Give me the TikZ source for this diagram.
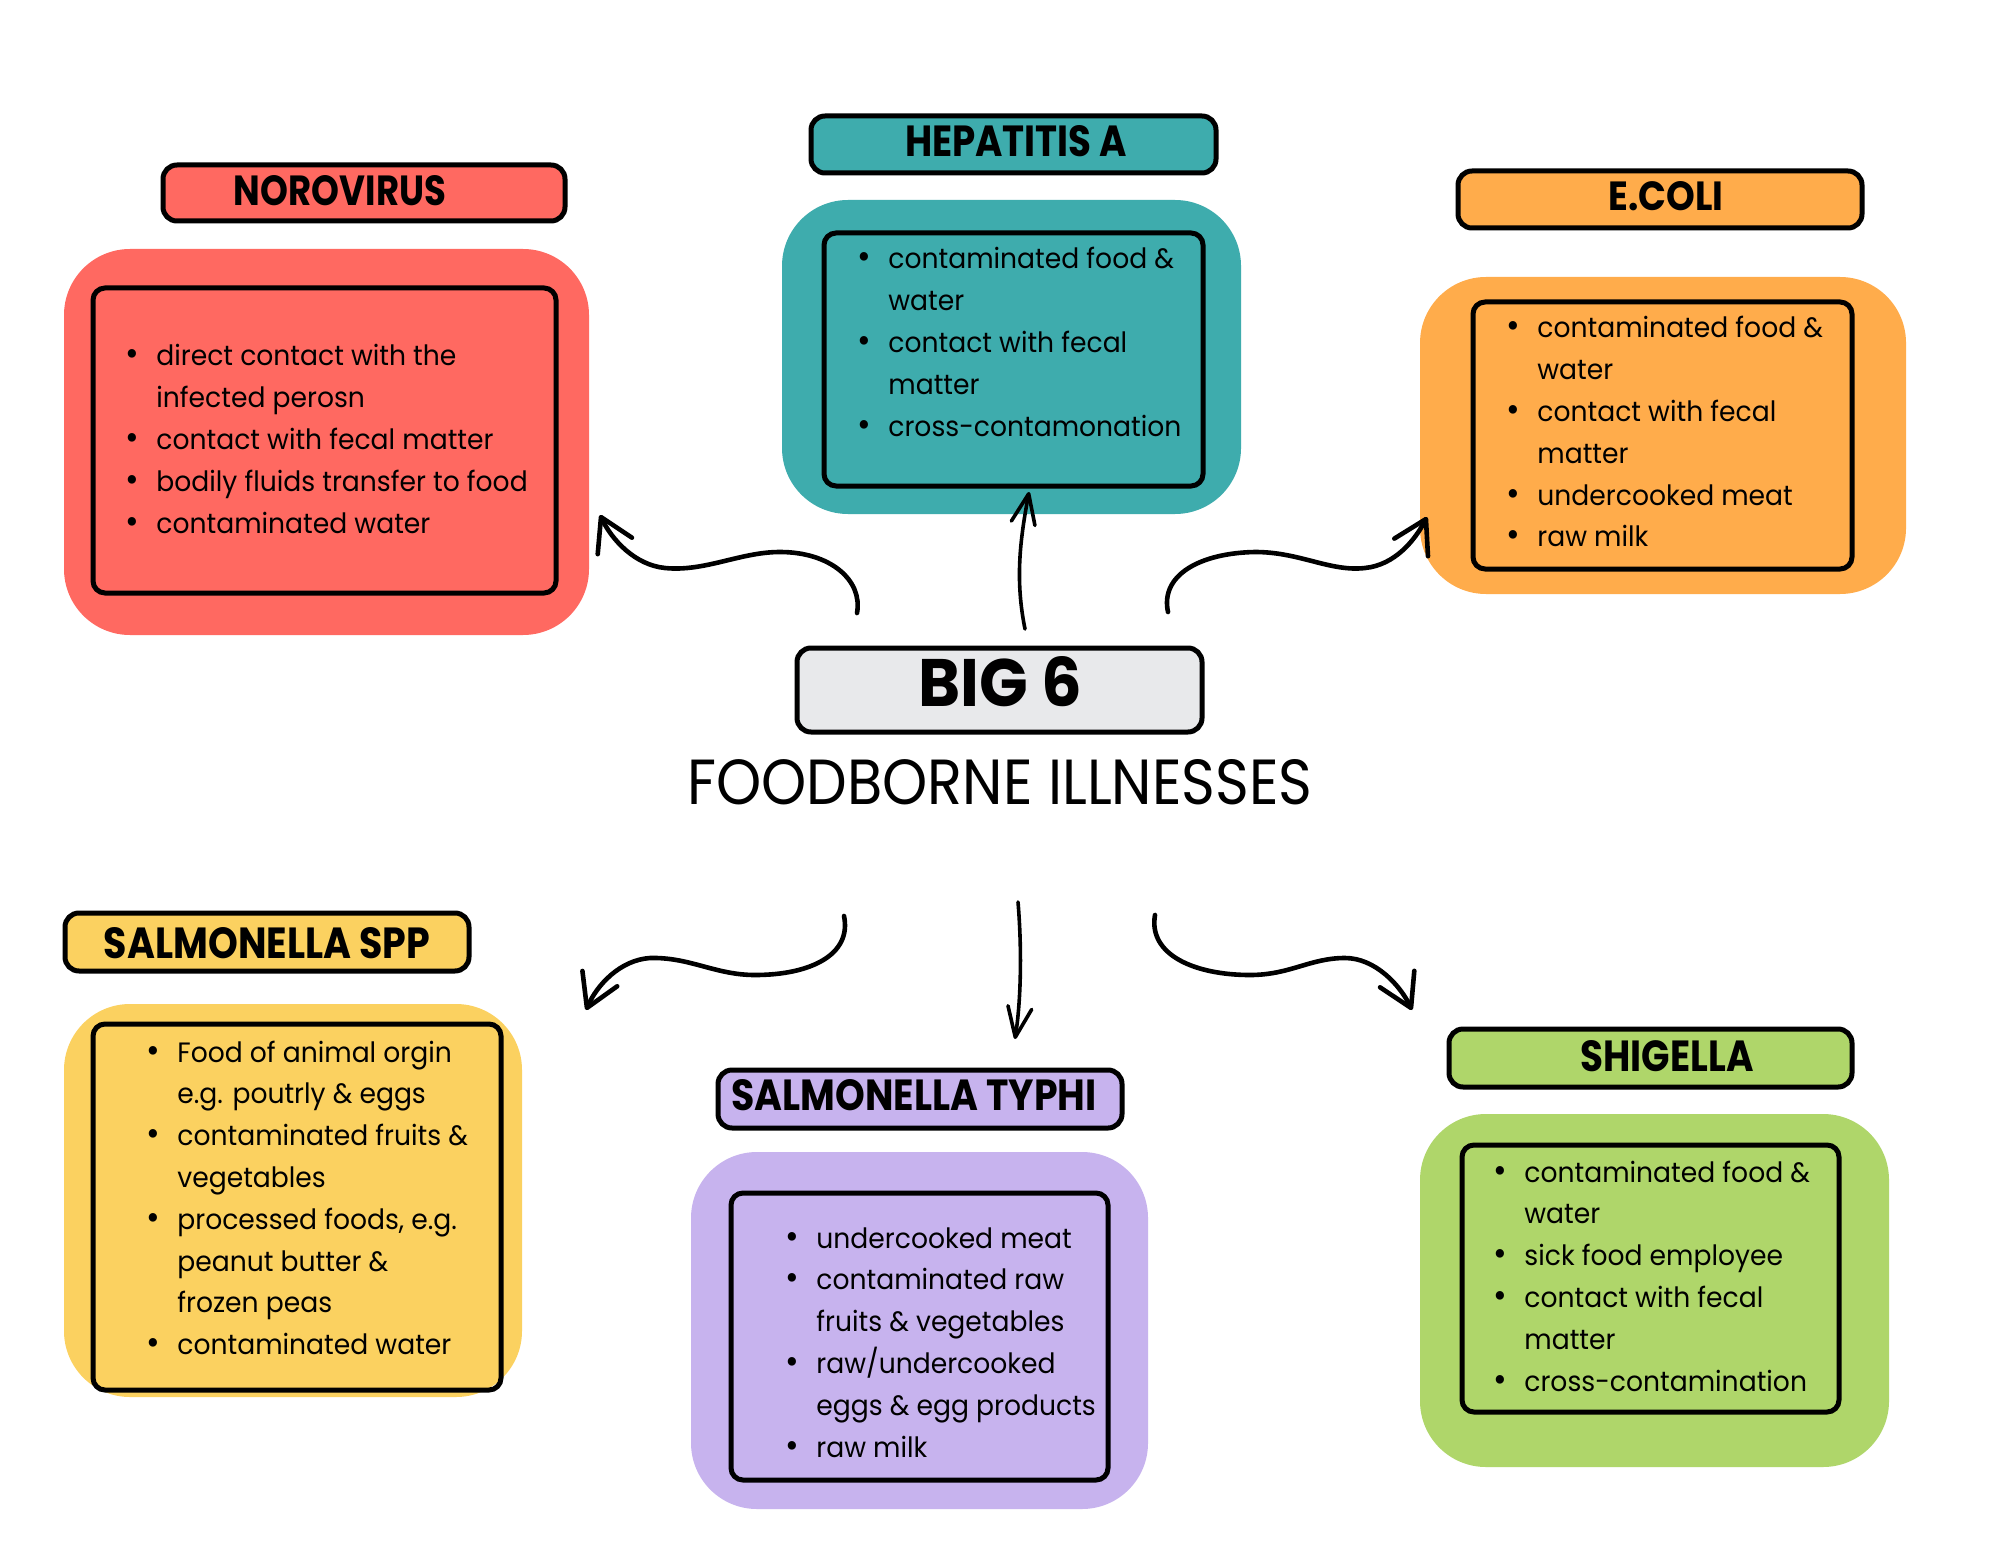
\documentclass[tikz,border=0pt]{standalone}
\usepackage{fontspec}
\usepackage{graphicx}
\setmainfont{Poppins}
\newfontfamily\listfont{Poppins}[FakeStretch=0.95]
\usetikzlibrary{arrows.meta}
\definecolor{noroC}{HTML}{FF6961}
\definecolor{hepC}{HTML}{3EACAD}
\definecolor{ecoC}{HTML}{FFAC4B}
\definecolor{sspC}{HTML}{FBD160}
\definecolor{typC}{HTML}{C7B3EE}
\definecolor{shiC}{HTML}{AFD66A}
\definecolor{bigC}{HTML}{E8E9EB}
\newcommand{\Bul}{\llap{\scalebox{1.25}{\textbullet}\hspace{8.5pt}}}
\newcommand{\TT}[3]{\resizebox{#1}{#2}{\bfseries #3}}
\begin{document}
\begin{tikzpicture}[x=0.5pt,y=-0.5pt,
  outerbox/.style={fill=#1, rounded corners=33pt, inner sep=0pt},
  titlebox/.style={fill=#1, draw=black, line width=2.5pt, rounded corners=7pt, inner sep=0pt},
  innerbox/.style={draw=black, line width=2.5pt, rounded corners=6pt, inner sep=0pt},
  titletext/.style={inner sep=0pt},
  listtext/.style={inner sep=0pt, anchor=base west, font=\listfont\fontsize{14pt}{20.9pt}\selectfont},
  curvy/.style={line width=2.3pt, line cap=round, -{Straight Barb[length=16pt,width=19pt,round]}},
  upright/.style={line width=1.8pt, line cap=round, -{Straight Barb[length=15pt,width=12pt,round]}}]
\fill[white] (0,0) rectangle (2000,1545);
\useasboundingbox (0,0) rectangle (2000,1545);

% ---------- outer coloured panels ----------
\node[outerbox=noroC, minimum width=262.5pt, minimum height=193pt] (noroOut) at (326.5,442) {};
\node[outerbox=hepC, minimum width=229.5pt, minimum height=157pt] (hepOut) at (1011.5,357) {};
\node[outerbox=ecoC, minimum width=243pt, minimum height=158.5pt] (ecoOut) at (1663,435.5) {};
\node[outerbox=sspC, minimum width=229pt, minimum height=196.5pt] (sspOut) at (293,1200.5) {};
\node[outerbox=typC, minimum width=228.5pt, minimum height=178.5pt] (typOut) at (919.5,1330.5) {};
\node[outerbox=shiC, minimum width=234.5pt, minimum height=176.5pt] (shiOut) at (1654.5,1290.5) {};

% ---------- inner frames ----------
\node[innerbox, minimum width=231.5pt, minimum height=152.5pt] (noroIn) at (324.5,440.5) {};
\node[innerbox, minimum width=189.5pt, minimum height=126.5pt] (hepIn) at (1013.5,359.5) {};
\node[innerbox, minimum width=189.5pt, minimum height=133.5pt] (ecoIn) at (1662.5,435.5) {};
\node[innerbox, minimum width=204pt, minimum height=183pt] (sspIn) at (297,1207) {};
\node[innerbox, minimum width=188.5pt, minimum height=143.5pt] (typIn) at (919.5,1336.5) {};
\node[innerbox, minimum width=188.5pt, minimum height=133.5pt] (shiIn) at (1650.5,1278.5) {};

% ---------- title boxes ----------
\node[titlebox=noroC, minimum width=201pt, minimum height=28pt] (noroT) at (364,193) {};
\node[titlebox=hepC, minimum width=202.5pt, minimum height=28.5pt] (hepT) at (1013.5,144.5) {};
\node[titlebox=ecoC, minimum width=202pt, minimum height=28.5pt] (ecoT) at (1660,199.5) {};
\node[titlebox=sspC, minimum width=202pt, minimum height=29pt] (sspT) at (267,942) {};
\node[titlebox=typC, minimum width=202pt, minimum height=29pt] (typT) at (920,1099) {};
\node[titlebox=shiC, minimum width=201.5pt, minimum height=29pt] (shiT) at (1650.5,1058) {};
\node[titlebox=bigC, minimum width=202.5pt, minimum height=42pt] (bigT) at (999.5,690) {};

% ---------- title texts ----------
\node[titletext] (noroL) at (340,191) {\TT{106pt}{15pt}{NOROVIRUS}};
\node[titletext] (hepL) at (1016,141) {\TT{111pt}{15.5pt}{HEPATITIS A}};
\node[titletext] (ecoL) at (1666,196) {\TT{57.5pt}{14.5pt}{E.COLI}};
\node[titletext] (sspL) at (267,943) {\TT{163pt}{15.5pt}{SALMONELLA SPP}};
\node[titletext] (typL) at (914,1095) {\TT{182.5pt}{15.5pt}{SALMONELLA TYPHI}};
\node[titletext] (shiL) at (1667,1056) {\TT{86.5pt}{15.5pt}{SHIGELLA}};
\node[titletext] (bigL) at (1000,682) {\TT{82pt}{25pt}{BIG 6}};
\node[titletext] (fbL) at (1000,782) {\resizebox{312.5pt}{22.5pt}{FOODBORNE ILLNESSES}};

% ---------- lists ----------
\node[listtext] (noroTxt) at (156,366) {\begin{tabular}[t]{@{}l@{}}
\Bul direct contact with the\\
infected perosn\\
\Bul contact with fecal matter\\
\Bul bodily fluids transfer to food\\
\Bul contaminated water\end{tabular}};
\node[listtext] (hepTxt) at (888,269) {\begin{tabular}[t]{@{}l@{}}
\Bul contaminated food \&\\
water\\
\Bul contact with fecal\\
matter\\
\Bul cross-contamonation\end{tabular}};
\node[listtext] (ecoTxt) at (1537,338) {\begin{tabular}[t]{@{}l@{}}
\Bul contaminated food \&\\
water\\
\Bul contact with fecal\\
matter\\
\Bul undercooked meat\\
\Bul raw milk\end{tabular}};
\node[listtext] (sspTxt) at (177,1062) {\begin{tabular}[t]{@{}l@{}}
\Bul Food of animal orgin\\
e.g. poutrly \& eggs\\
\Bul contaminated fruits \&\\
vegetables\\
\Bul processed foods, e.g.\\
peanut butter \&\\
frozen peas\\
\Bul contaminated water\end{tabular}};
\node[listtext] (typTxt) at (816,1248) {\begin{tabular}[t]{@{}l@{}}
\Bul undercooked meat\\
\Bul contaminated raw\\
fruits \& vegetables\\
\Bul raw/undercooked\\
eggs \& egg products\\
\Bul raw milk\end{tabular}};
\node[listtext] (shiTxt) at (1524,1182) {\begin{tabular}[t]{@{}l@{}}
\Bul contaminated food \&\\
water\\
\Bul sick food employee\\
\Bul contact with fecal\\
matter\\
\Bul cross-contamination\end{tabular}};

% ---------- arrows ----------
\coordinate (aNs) at (857,613);  \coordinate (aNe) at (600,515);
\coordinate (aHs) at (1025,629); \coordinate (aHe) at (1029,492);
\coordinate (aEs) at (1168,612); \coordinate (aEe) at (1427,517);
\coordinate (aSs) at (844,916);  \coordinate (aSe) at (586,1010);
\coordinate (aTs) at (1018,902); \coordinate (aTe) at (1015,1039);
\coordinate (aGs) at (1155,915); \coordinate (aGe) at (1412,1010);

\draw[curvy] (aNs) .. controls (863,580) and (830,552) .. (780,552)
  .. controls (740,552) and (705,572) .. (665,568)
  .. controls (635,565) and (612,540) .. (aNe);
\draw[upright] (aHs) .. controls (1015,580) and (1020,540) .. (aHe);
\draw[curvy] (aEs) .. controls (1160,575) and (1200,553) .. (1255,552)
  .. controls (1300,552) and (1330,572) .. (1365,568)
  .. controls (1395,565) and (1415,540) .. (aEe);
\draw[curvy] (aSs) .. controls (852,955) and (810,975) .. (755,975)
  .. controls (715,975) and (690,957) .. (650,958)
  .. controls (620,960) and (597,985) .. (aSe);
\draw[upright] (aTs) .. controls (1022,950) and (1021,1000) .. (aTe);
\draw[curvy] (aGs) .. controls (1148,955) and (1195,975) .. (1250,975)
  .. controls (1290,975) and (1310,958) .. (1345,958)
  .. controls (1375,958) and (1400,985) .. (aGe);
\end{tikzpicture}
\end{document}
